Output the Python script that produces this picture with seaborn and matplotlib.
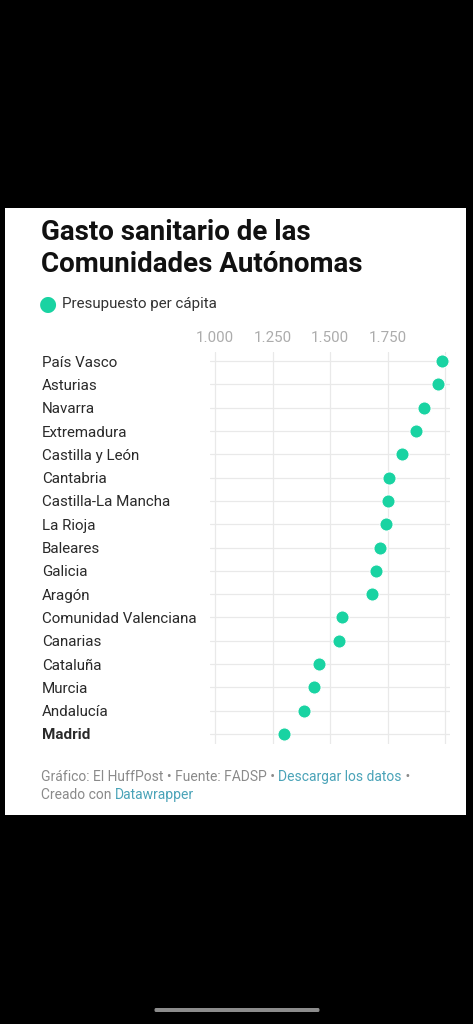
import matplotlib
matplotlib.use("Agg")
import matplotlib.pyplot as plt
from matplotlib.patches import Rectangle, FancyBboxPatch
import seaborn as sns
import pandas as pd

regions = ["País Vasco", "Asturias", "Navarra", "Extremadura", "Castilla y León",
           "Cantabria", "Castilla-La Mancha", "La Rioja", "Baleares", "Galicia",
           "Aragón", "Comunidad Valenciana", "Canarias", "Cataluña", "Murcia",
           "Andalucía", "Madrid"]
per_capita = [1987, 1968, 1910, 1876, 1815, 1757, 1753, 1744, 1717, 1699,
              1682, 1550, 1541, 1453, 1430, 1387, 1300]
tick_values = [1000, 1250, 1500, 1750, 2000]
tick_labels = ["1.000", "1.250", "1.500", "1.750", ""]

title = "Gasto sanitario de las\nComunidades Autónomas"
legend_label = "Presupuesto per cápita"

df = pd.DataFrame({"region": regions, "valor": per_capita})

sns.set_theme(style="white")
plt.rcParams["font.family"] = ["Roboto", "DejaVu Sans"]

W, H = 473, 1024
fig = plt.figure(figsize=(W / 100, H / 100), dpi=100, facecolor="black")

def fx(px):
    return px / W

def fy(py):
    return 1 - py / H

# white card
fig.add_artist(Rectangle((fx(5), fy(815)), fx(466) - fx(5), fy(208) - fy(815),
                         transform=fig.transFigure, facecolor="white",
                         edgecolor="none", zorder=0))

green = "#19d3a2"

ax = fig.add_axes([fx(210), fy(744), fx(450) - fx(210), fy(352) - fy(744)])
ax.set_facecolor("white")
sns.stripplot(data=df, x="valor", y="region", order=regions, jitter=False,
              color=green, size=9.5, linewidth=0.8, edgecolor="white",
              ax=ax, zorder=3)

ax.set_xlim(1000 - 5 / 0.23, 2000 + 5 / 0.23)
ax.set_ylim(16.43, -0.39)
ax.set_xticks(tick_values)
ax.set_xticklabels(tick_labels)
ax.xaxis.tick_top()
ax.tick_params(axis="x", length=0, pad=5, labelsize=10.9, labelcolor="#acacac")
ax.tick_params(axis="y", length=0, pad=121, labelsize=10.9, labelcolor="#2a2a2a")
for lab in ax.get_yticklabels():
    lab.set_horizontalalignment("left")
    if lab.get_text() == "Madrid":
        lab.set_fontweight("bold")
ax.set_xlabel("")
ax.set_ylabel("")
for s in ax.spines.values():
    s.set_visible(False)
ax.grid(True, color="#e9e9e9", linewidth=0.9, zorder=0)
ax.set_axisbelow(True)

# title
fig.text(fx(41), fy(248.5), title, fontsize=20, fontweight="bold", color="#111111",
         ha="left", va="center", linespacing=1.2)

# legend
fig.text(fx(48), fy(304), "●", fontsize=15, color=green, ha="center", va="center",
         family="DejaVu Sans")
fig.text(fx(62), fy(304), legend_label, fontsize=10.9, color="#333333",
         ha="left", va="center")

# footer
gray = "#8a8a8a"
blue = "#4aa3b8"
fs = 10
t1 = fig.text(fx(41), fy(777), "Gráfico: El HuffPost • Fuente: FADSP • ", fontsize=fs,
              color=gray, ha="left", va="center")
t2 = fig.text(0, 0, "Descargar los datos", fontsize=fs, color=blue)
t3 = fig.text(0, 0, " •", fontsize=fs, color=gray)
t4 = fig.text(fx(41), fy(795), "Creado con ", fontsize=fs, color=gray,
              ha="left", va="center")
t5 = fig.text(0, 0, "Datawrapper", fontsize=fs, color=blue)

fig.canvas.draw()
r = fig.canvas.get_renderer()
inv = fig.transFigure.inverted()

def place_after(prev, nxt):
    bb = prev.get_window_extent(r)
    x1, y0 = inv.transform((bb.x1, bb.y0))
    nxt.set_position((x1, y0))
    nxt.set_ha("left")
    nxt.set_va("bottom")

place_after(t1, t2)
fig.canvas.draw()
place_after(t2, t3)
place_after(t4, t5)

# home indicator
fig.add_artist(FancyBboxPatch((fx(154), fy(1012)), fx(320) - fx(154), fy(1008) - fy(1012),
                              boxstyle="round,pad=0,rounding_size=0.004",
                              transform=fig.transFigure, facecolor="#8c8c8c",
                              edgecolor="none"))

fig.savefig("out.png", dpi=100, facecolor="black")
